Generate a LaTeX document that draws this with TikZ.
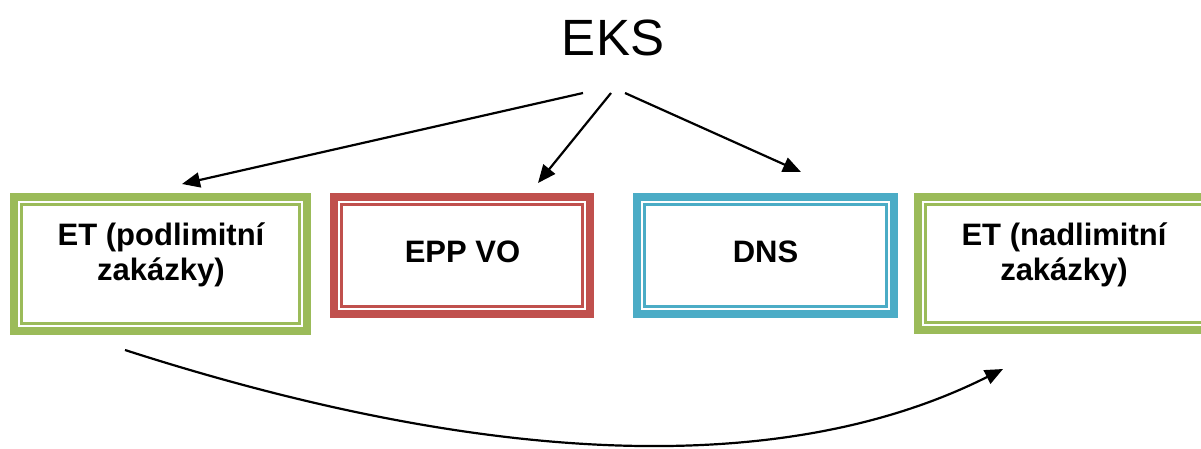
\documentclass[tikz,border=0pt]{standalone}
\usepackage{fontspec}
\setmainfont{Liberation Sans}
\usetikzlibrary{arrows.meta,calc}
\definecolor{leaf}{RGB}{155,187,89}
\definecolor{brick}{RGB}{192,80,77}
\definecolor{aqua}{RGB}{75,172,198}
\begin{document}
\begin{tikzpicture}[>={Triangle[length=18pt,width=15pt]}, x=1pt, y=-1pt,
    panel/.style={draw=#1,line width=8pt,outer sep=0pt,inner sep=0pt},
    label/.style={font=\fontsize{31}{35}\selectfont\bfseries,align=center,anchor=base,inner sep=0pt},
    link/.style={->,line width=2.2pt}]
    \clip (0,0) rectangle (1201,448);
    \node[font=\fontsize{51}{60}\selectfont,anchor=base,inner sep=0pt] (eks) at (613,55) {EKS};
    % boxes
    \node[panel=leaf,minimum width=293pt,minimum height=134pt] (etpod) at (160.5,264) {};
    \node[panel=brick,minimum width=256pt,minimum height=117pt] (eppvo) at (462,255.5) {};
    \node[panel=aqua,minimum width=257pt,minimum height=117pt] (dns) at (765.5,255.5) {};
    \node[panel=leaf,minimum width=293pt,minimum height=133pt] (etnad) at (1064.5,263.5) {};
    \foreach \n/\c in {etpod/leaf,eppvo/brick,dns/aqua,etnad/leaf}
      \draw[\c,line width=2.3pt] ([shift={(7.5,7.5)}]\n.north west) rectangle ([shift={(-7.5,-7.5)}]\n.south east);
    \node[label] (tpod) at (161,280) {ET (podlimitní\\zakázky)};
    \node[label] (tepp) at (462.5,262) {EPP VO};
    \node[label] (tdns) at (765.5,262) {DNS};
    \node[label] (tnad) at (1064,280) {ET (nadlimitní\\zakázky)};
    % arrows
    \coordinate (s1) at (583,93); \coordinate (e1) at (182,184);
    \coordinate (s2) at (611,93); \coordinate (e2) at (538,183);
    \coordinate (s3) at (625,93); \coordinate (e3) at (801,172);
    \coordinate (b1) at (125,350); \coordinate (b2) at (1003,369);
    \draw[link] (s1)--(e1); \draw[link] (s2)--(e2); \draw[link] (s3)--(e3);
    \draw[link] (b1) .. controls (498,470) and (790,476) .. (b2);
  \end{tikzpicture}
\end{document}
